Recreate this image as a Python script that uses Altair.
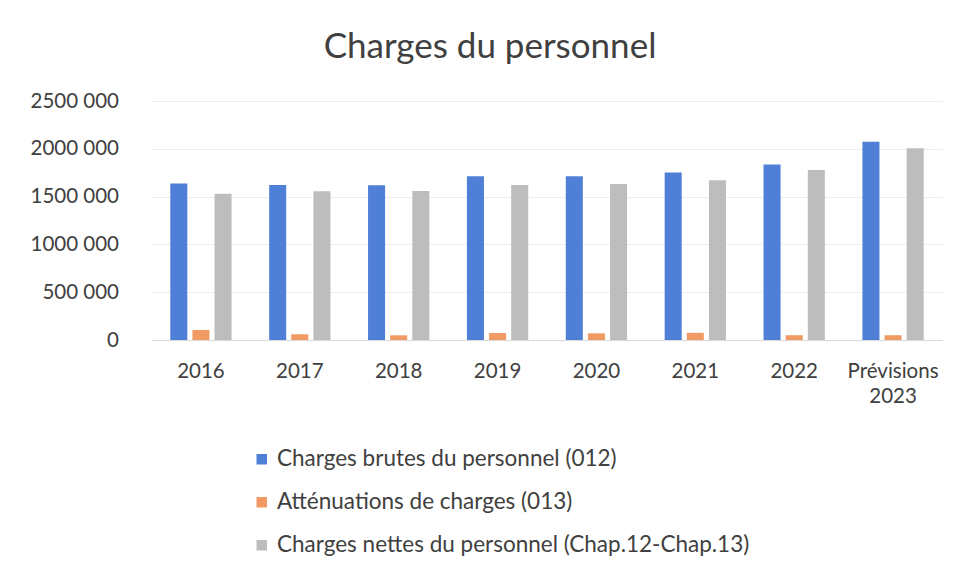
import altair as alt
import pandas as pd

categories = ["2016", "2017", "2018", "2019", "2020", "2021", "2022", "Prévisions 2023"]
series_names = [
    "Charges brutes du personnel (012)",
    "Atténuations de charges (013)",
    "Charges nettes du personnel (Chap.12-Chap.13)",
]
brutes = [1638000, 1621000, 1618000, 1712000, 1712000, 1751000, 1835000, 2073000]
attenuations = [105000, 60000, 49000, 73000, 70000, 75000, 50000, 50000]
nettes = [1530000, 1555000, 1558000, 1621000, 1632000, 1670000, 1779000, 2006000]
colors = ["#4F7FD6", "#F29A63", "#BDBDBD"]

rows = []
for i, c in enumerate(categories):
    for name, vals in zip(series_names, [brutes, attenuations, nettes]):
        rows.append({"cat": c, "serie": name, "val": vals[i]})
df = pd.DataFrame(rows)

FONT = "Lato"
TXT = "#404040"
FS = 20.5

chart = alt.Chart(df).mark_bar().encode(
    x=alt.X("cat:N", sort=categories, title=None,
            scale=alt.Scale(paddingInner=0.38, paddingOuter=0.19),
            axis=alt.Axis(labelAngle=0, labelFontSize=FS, labelColor=TXT, labelFont=FONT,
                          labelPadding=21, ticks=False, domain=True, domainColor="#D9D9D9",
                          labelExpr="datum.value == 'Prévisions 2023' ? ['Prévisions', '2023'] : datum.value",
                          labelLineHeight=25)),
    xOffset=alt.XOffset("serie:N", sort=series_names,
                        scale=alt.Scale(paddingInner=0.23, paddingOuter=0)),
    y=alt.Y("val:Q", title=None,
            scale=alt.Scale(domain=[0, 2500000], nice=False),
            axis=alt.Axis(values=[0, 500000, 1000000, 1500000, 2000000, 2500000],
                          labelExpr="datum.value == 0 ? '0' : (datum.value / 1000) + ' 000'",
                          labelFontSize=FS, labelColor=TXT, labelFont=FONT, labelPadding=33,
                          ticks=False, domain=False, gridColor="#EDEDED")),
    color=alt.Color("serie:N", sort=series_names,
                    scale=alt.Scale(domain=series_names, range=colors),
                    legend=alt.Legend(title=None, orient="none", legendX=99, legendY=347,
                                      direction="vertical", symbolType="square", symbolSize=110,
                                      labelFontSize=22.5, labelColor=TXT, labelFont=FONT,
                                      rowPadding=20, symbolStrokeWidth=0, labelOffset=4,
                                      labelLimit=700)),
).properties(
    width=791, height=239,
    title=alt.TitleParams("Charges du personnel", fontSize=35, font=FONT, color=TXT,
                          fontWeight="normal", anchor="middle", dx=-57, offset=26),
    autosize=alt.AutoSizeParams(type="none"),
    padding={"left": 143.5, "top": 93, "right": 6, "bottom": 228},
).configure_view(stroke=None)

chart.save("out.html", embed_options={"renderer": "svg", "actions": False})
